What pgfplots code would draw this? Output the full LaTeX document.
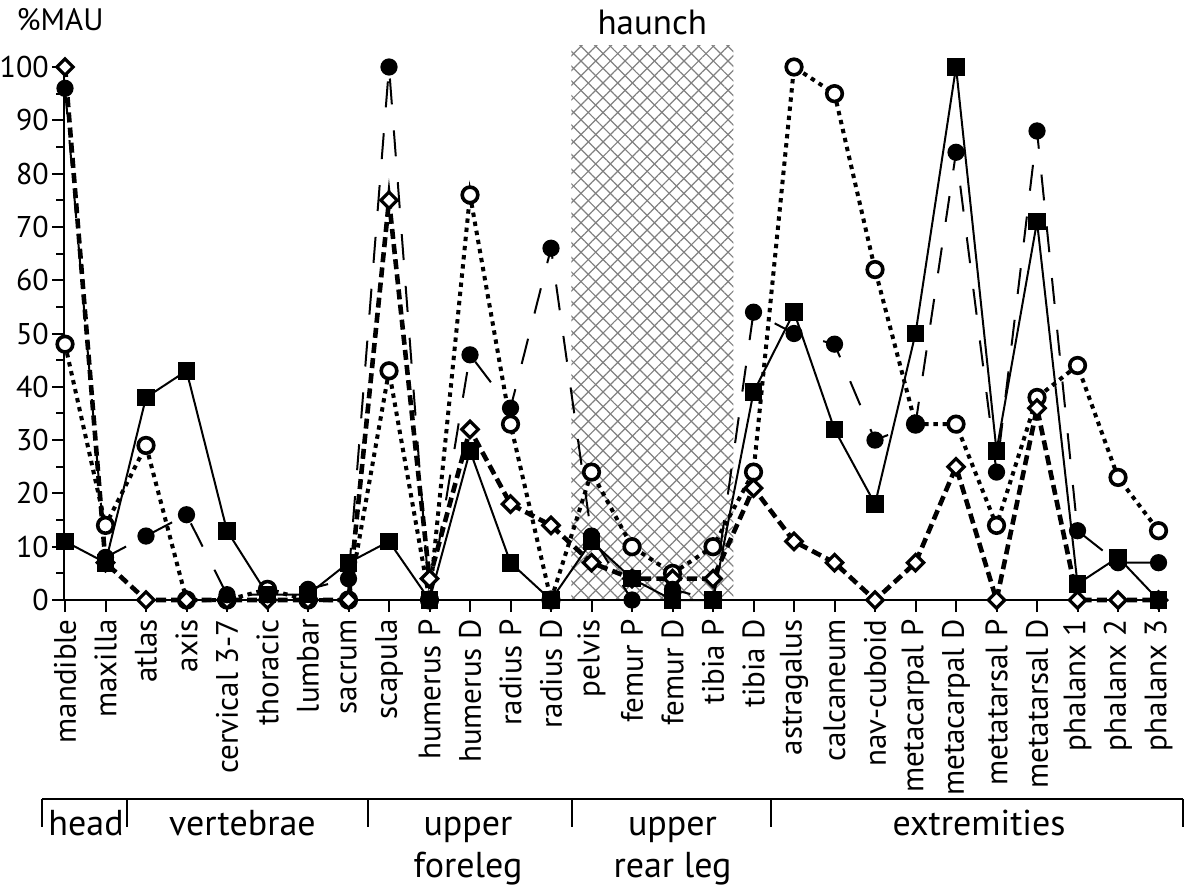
\documentclass[border=0pt]{standalone}
\usepackage{fontspec}
\setmainfont{PT Sans}
\usepackage{pgfplots}
\usepackage{pgfplotstable}
\pgfplotsset{compat=1.18}
\usetikzlibrary{patterns.meta}

\pgfplotstableread{
i sq fc oc dm
0 11 96 48 100
1 7 8 14 7
2 38 12 29 0
3 43 16 0 0
4 13 1 0 0
5 1 1 2 0
6 1 2 0 0
7 7 4 0 0
8 11 100 43 75
9 0 0 0 4
10 28 46 76 32
11 7 36 33 18
12 0 66 0 14
13 11 12 24 7
14 4 0 10 4
15 0 2 5 4
16 0 0 10 4
17 39 54 24 21
18 54 50 100 11
19 32 48 95 7
20 18 30 62 0
21 50 33 33 7
22 100 84 33 25
23 28 24 14 0
24 71 88 38 36
25 3 13 44 0
26 8 7 23 0
27 0 7 13 0
}\data

\begin{document}
\begin{tikzpicture}
\begin{axis}[
  set layers,
  scale only axis, width=551.2pt, height=266.5pt,
  xmin=-0.02, xmax=27.2, ymin=0, ymax=100,
  axis x line*=bottom, axis y line*=left,
  axis line style={line width=1pt, -},
  clip=false,
  xtick={0,...,27},
  xticklabels={mandible, maxilla, atlas, axis, cervical 3-7, thoracic, lumbar, sacrum, scapula, humerus P, humerus D, radius P, radius D, pelvis, femur P, femur D, tibia P, tibia D, astragalus, calcaneum, nav-cuboid, metacarpal P, metacarpal D, metatarsal P, metatarsal D, phalanx 1, phalanx 2, phalanx 3},
  x tick label style={rotate=90, anchor=east, font=\fontsize{15.5}{18}\selectfont, inner sep=3.5pt},
  ytick={0,10,...,100}, minor ytick={5,15,...,95},
  y tick label style={font=\fontsize{15}{18}\selectfont, /pgf/number format/assume math mode=true, inner sep=1.5pt},
  tick style={black, line width=1pt},
  major tick length=6pt, minor tick length=4pt,
  tick align=outside,
]
\begin{pgfonlayer}{axis background}
\fill[pattern={Lines[angle=45,distance=5.2pt,line width=0.6pt]}, pattern color=black!50] (axis cs:12.5,0) rectangle (axis cs:16.5,104);
\fill[pattern={Lines[angle=-45,distance=5.2pt,line width=0.6pt]}, pattern color=black!50] (axis cs:12.5,0) rectangle (axis cs:16.5,104);
\end{pgfonlayer}

\addplot[black, line width=2pt, dash pattern=on 2.2pt off 2.4pt, mark=*, mark size=3.9pt,
  mark options={solid, fill=white, draw=black, line width=1.8pt}] table[x=i,y=oc] {\data};
\addplot[black, line width=2.3pt, dash pattern=on 5pt off 2.6pt, mark=square*, mark size=2.9pt,
  mark options={solid, rotate=45, fill=white, draw=black, line width=1.6pt}] table[x=i,y=dm] {\data};
\addplot[black, line width=1pt, mark=square*, mark size=3.9pt, mark options={solid}] table[x=i,y=sq] {\data};
\addplot[black, line width=1pt, dash pattern=on 13pt off 13pt, mark=*, mark size=3.8pt, mark options={solid}] table[x=i,y=fc] {\data};

\node[font=\fontsize{17.5}{20}\selectfont] at (axis cs:14.5,108.4) {haunch};
\node[font=\fontsize{15.5}{18}\selectfont] at (axis cs:-0.12,108.8) {\%MAU};

\draw[line width=1pt] (axis cs:-0.568,-37.3) -- (axis cs:27.6,-37.3);
\draw[line width=1pt] (axis cs:-0.568,-37.3) -- (axis cs:-0.568,-42.6);
\draw[line width=1pt] (axis cs:1.53,-37.3) -- (axis cs:1.53,-42.6);
\draw[line width=1pt] (axis cs:7.47,-37.3) -- (axis cs:7.47,-42.6);
\draw[line width=1pt] (axis cs:12.52,-37.3) -- (axis cs:12.52,-42.6);
\draw[line width=1pt] (axis cs:17.43,-37.3) -- (axis cs:17.43,-42.6);
\draw[line width=1pt] (axis cs:27.6,-37.3) -- (axis cs:27.6,-42.6);

\begin{scope}[every node/.style={font=\fontsize{18}{21}\selectfont, anchor=base, inner sep=0pt}]
\node at (axis cs:0.52,-44.1) {head};
\node at (axis cs:4.38,-44.1) {vertebrae};
\node at (axis cs:9.95,-44.1) {upper};
\node at (axis cs:9.95,-52.0) {foreleg};
\node at (axis cs:15.0,-44.1) {upper};
\node at (axis cs:15.0,-52.0) {rear leg};
\node at (axis cs:22.57,-44.1) {extremities};
\end{scope}

\coordinate (BL) at (axis cs:-1.605,-54.78);
\coordinate (TR) at (axis cs:27.654,112.57);
\end{axis}
\pgfresetboundingbox
\path[use as bounding box] (BL) rectangle (TR);
\end{tikzpicture}
\end{document}
